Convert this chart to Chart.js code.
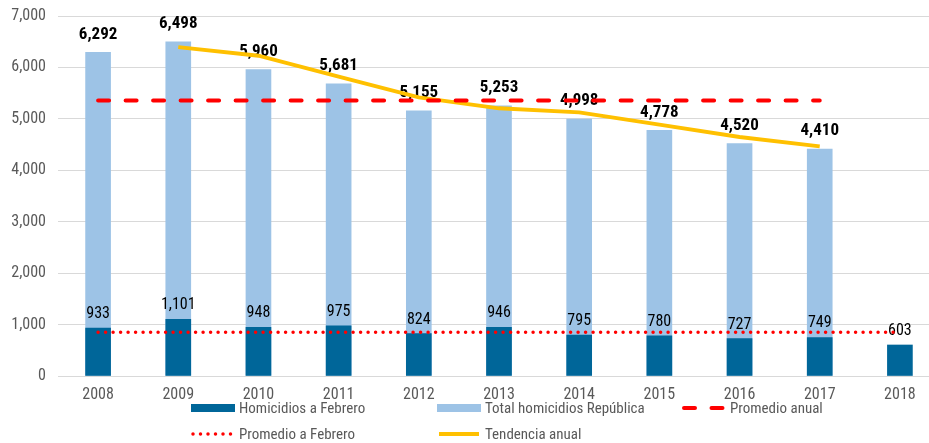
<!DOCTYPE html>
<html>
<head>
<meta charset="utf-8">
<script src="https://cdn.jsdelivr.net/npm/chart.js@4.4.1/dist/chart.umd.min.js"></script>
<style>
    html, body { margin: 0; padding: 0; background: #fff; overflow: hidden; }
    #wrap { width: 940px; height: 443px; position: relative; }
</style>
</head>
<body>
<div id="wrap"><canvas id="chart"></canvas></div>
<script>
// 數據
const years = ['2008', '2009', '2010', '2011', '2012', '2013', '2014', '2015', '2016', '2017', '2018'];
const homicidiosFebrero = [933, 1101, 948, 975, 824, 946, 795, 780, 727, 749, 603];
const totalRepublica = [6292, 6498, 5960, 5681, 5155, 5253, 4998, 4778, 4520, 4410, null];
const promedioAnual = [5355, 5355, 5355, 5355, 5355, 5355, 5355, 5355, 5355, 5355, null];
const promedioFebrero = [853, 853, 853, 853, 853, 853, 853, 853, 853, 853, 853];
const tendenciaAnual = [null, 6395, 6229, 5821, 5418, 5204, 5126, 4888, 4649, 4465, null];

const FONT = '"Roboto Condensed", "Liberation Sans Narrow", sans-serif';
const fmt = v => Number(v).toLocaleString('en-US');

// 數值標籤：畫在長條之後、線條之前
const valueLabels = {
    id: 'valueLabels',
    afterDatasetDraw(chart, args) {
        if (args.index !== 0) return;
        const ctx = chart.ctx;
        ctx.save();
        ctx.textAlign = 'center';
        ctx.textBaseline = 'middle';
        ctx.fillStyle = '#000';

        ctx.font = 'bold 17px ' + FONT;
        chart.getDatasetMeta(1).data.forEach((bar, i) => {
            if (totalRepublica[i] == null) return;
            ctx.fillText(fmt(totalRepublica[i]), bar.x, bar.y - 18);
        });

        ctx.font = '16px ' + FONT;
        chart.getDatasetMeta(0).data.forEach((bar, i) => {
            if (homicidiosFebrero[i] == null) return;
            ctx.fillText(fmt(homicidiosFebrero[i]), bar.x, bar.y - 14);
        });
        ctx.restore();
    }
};

// 自訂圖例（兩列，三欄對齊）
const gridLegend = {
    id: 'gridLegend',
    afterDraw(chart) {
        const ctx = chart.ctx;
        const ds = chart.data.datasets;
        const cols = [191, 437, 682];
        const rows = [408, 434];
        const cells = [[0, 0, 0], [1, 1, 0], [2, 2, 0], [3, 0, 1], [4, 1, 1]];
        ctx.save();
        ctx.font = '15px ' + FONT;
        ctx.textBaseline = 'middle';
        ctx.textAlign = 'left';
        cells.forEach(([d, c, r]) => {
            const x = cols[c], y = rows[r], set = ds[d];
            if (set.type === 'line') {
                ctx.beginPath();
                ctx.strokeStyle = set.borderColor;
                ctx.lineWidth = set.borderWidth;
                ctx.lineCap = set.borderCapStyle || 'butt';
                ctx.setLineDash(set.borderDash || []);
                ctx.moveTo(x + 2, y);
                ctx.lineTo(x + 42, y);
                ctx.stroke();
                ctx.setLineDash([]);
            } else {
                ctx.fillStyle = set.backgroundColor;
                ctx.fillRect(x, y - 4, 44, 8);
            }
            ctx.fillStyle = '#595959';
            ctx.fillText(set.label, x + 48, y + 1);
        });
        ctx.restore();
    }
};

new Chart(document.getElementById('chart'), {
    data: {
        labels: years,
        datasets: [
            {
                type: 'bar',
                label: 'Homicidios a Febrero',
                data: homicidiosFebrero,
                backgroundColor: '#006699',
                barThickness: 25,
                grouped: false,
                order: 1
            },
            {
                type: 'bar',
                label: 'Total homicidios República',
                data: totalRepublica,
                backgroundColor: '#9DC3E6',
                barThickness: 25,
                grouped: false,
                order: 2
            },
            {
                type: 'line',
                label: 'Promedio anual',
                data: promedioAnual,
                borderColor: '#FF0000',
                borderWidth: 4,
                borderDash: [11, 16.5],
                borderCapStyle: 'round',
                pointRadius: 0,
                fill: false,
                order: 0
            },
            {
                type: 'line',
                label: 'Promedio a Febrero',
                data: promedioFebrero,
                borderColor: '#FF0000',
                borderWidth: 3.5,
                borderDash: [0, 7.5],
                borderCapStyle: 'round',
                pointRadius: 0,
                fill: false,
                order: 0
            },
            {
                type: 'line',
                label: 'Tendencia anual',
                data: tendenciaAnual,
                borderColor: '#FFC000',
                borderWidth: 4,
                pointRadius: 0,
                tension: 0,
                fill: false,
                order: 0
            }
        ]
    },
    options: {
        responsive: true,
        maintainAspectRatio: false,
        animation: false,
        layout: { padding: { top: 16, right: 0, bottom: 42, left: 0 } },
        plugins: {
            legend: { display: false },
            tooltip: { enabled: false }
        },
        scales: {
            x: {
                grid: { display: false, drawTicks: false },
                border: { display: false },
                ticks: { color: '#595959', font: { family: FONT, size: 16 }, padding: 9 },
                afterFit: s => { s.height = 25; }
            },
            y: {
                min: 0,
                max: 7000,
                grid: { color: '#D9D9D9', lineWidth: 1, drawTicks: false },
                border: { display: false },
                ticks: {
                    stepSize: 1000,
                    color: '#595959',
                    font: { family: FONT, size: 16 },
                    padding: 12,
                    callback: v => fmt(v)
                },
                afterFit: s => { s.width = 58; s.paddingTop = 0; s.paddingBottom = 0; }
            }
        }
    },
    plugins: [valueLabels, gridLegend]
});
</script>
</body>
</html>
